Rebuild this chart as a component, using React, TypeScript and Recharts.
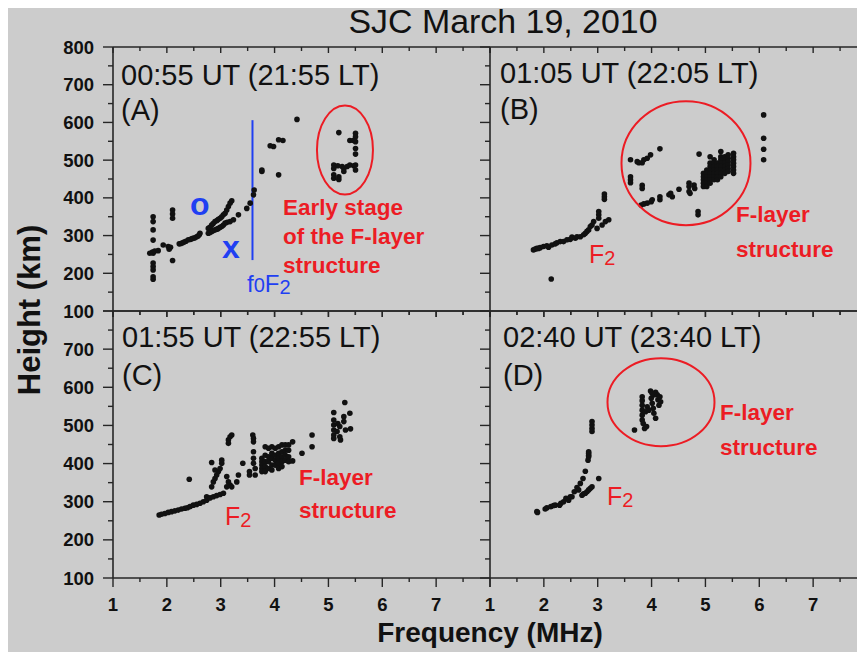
import React from 'react';
import { ScatterChart, Scatter, XAxis, YAxis, ReferenceDot, ReferenceLine } from 'recharts';

type P = [number, number];

// ---------- axes ----------
const xTicks = [1, 1.5, 2, 2.5, 3, 3.5, 4, 4.5, 5, 5.5, 6, 6.5, 7, 7.5, 8];
const yTicks = [100, 150, 200, 250, 300, 350, 400, 450, 500, 550, 600, 650, 700, 750, 800];
const xTickLabels = ['1', '2', '3', '4', '5', '6', '7'];
const yTickLabels = ['100', '200', '300', '400', '500', '600', '700', '800'];

// ---------- data (frequency MHz, height km) ----------
const col = (f: number, hs: number[]): P[] => hs.map((h) => [f, h] as P);

const panelA: P[] = [
  ...col(1.745, [350, 337, 315, 288, 253, 227, 218, 209, 191, 184]),
  [1.683, 253], [1.733, 256], [1.776, 259], [1.839, 260], [1.932, 275], [2.025, 271], [2.043, 264], [2.068, 269],
  ...col(2.106, [368, 357, 346, 234]),
  [2.23, 278], [2.26, 279], [2.292, 281], [2.32, 283], [2.354, 285], [2.398, 289], [2.441, 290], [2.47, 292],
  [2.491, 293], [2.52, 294], [2.553, 297], [2.58, 299], [2.602, 302], [2.615, 306],
  [2.77, 319], [2.8, 322], [2.832, 328], [2.86, 332], [2.894, 337], [2.93, 340], [2.957, 343], [2.99, 346],
  [3.019, 350], [3.05, 355], [3.081, 359], [3.112, 368], [3.143, 377], [3.174, 386], [3.205, 392],
  [2.77, 306], [2.8, 308], [2.832, 311], [2.86, 313], [2.894, 315], [2.93, 317], [2.957, 319], [2.99, 322],
  [3.019, 324], [3.05, 328], [3.081, 333], [3.12, 335], [3.174, 337], [3.236, 342],
  [3.329, 355], [3.484, 372], [3.547, 386], [3.609, 408], [3.621, 421],
  [3.764, 470], [3.764, 474], [4.075, 461], [3.919, 538], [3.981, 536], [4.075, 554], [4.155, 552], [4.416, 608],
  [5.193, 573], [5.099, 487], [5.099, 478], [5.174, 485], [5.255, 483], [5.286, 478], [5.348, 483], [5.398, 487],
  [5.472, 485], [5.503, 487], [5.503, 474], [5.099, 461], [5.099, 452], [5.193, 456], [5.193, 449], [5.286, 470],
  [5.398, 552], [5.46, 552], ...col(5.503, [571, 562, 549, 531, 516]),
];

const panelB: P[] = [
  [1.807, 262], [1.839, 264], [1.87, 266], [1.9, 266], [1.932, 268], [1.994, 271], [2.056, 273], [2.087, 269],
  [2.149, 275], [2.211, 278], [2.242, 281], [2.304, 284], [2.366, 284], [2.429, 289], [2.491, 290], [2.522, 296],
  [2.584, 293], [2.615, 297], [2.677, 297], [2.739, 302], [2.77, 306], [2.801, 311], [2.832, 315], [2.863, 324],
  [2.894, 328], [2.925, 337], ...col(3.019, [364, 355, 346]), ...col(3.124, [410, 403, 396]),
  [2.988, 319], [3.081, 328], [3.143, 337], [3.205, 342], [2.137, 185],
  ...col(3.609, [501, 456, 448, 440]), [3.733, 496], [3.764, 493], [3.826, 493], [3.857, 501], [3.919, 505],
  [3.981, 514], [4.155, 530], [3.826, 433], [3.826, 425],
  [3.807, 381], [3.857, 384], [3.919, 386], [3.994, 390], [4.012, 395], [4.155, 395], [4.155, 403], [4.323, 408],
  [4.354, 412], [4.385, 403], [4.509, 423], ...col(4.696, [439, 430, 417]), [4.714, 412], [4.789, 434], [4.801, 425],
  [4.882, 516], [4.863, 364], [4.863, 355],
  ...col(4.963, [465, 456, 448, 439, 430]),
  ...col(5.025, [474, 465, 456, 448, 439, 430]),
  ...col(5.087, [509, 492, 483, 474, 465, 456, 448, 439]),
  ...col(5.161, [501, 492, 483, 474, 465, 456, 448]),
  ...col(5.224, [492, 483, 474, 465, 456, 448]),
  ...col(5.286, [523, 509, 501, 492, 483, 474, 465, 456]),
  ...col(5.36, [509, 501, 492, 483, 474, 465]),
  ...col(5.422, [514, 505, 496, 487, 478, 470]),
  ...col(5.522, [518, 509, 501, 492, 483, 474, 465]),
  ...col(6.081, [620, 558, 529, 501]),
];

const panelC: P[] = [
  [1.857, 265], [1.901, 267], [1.963, 269], [2.025, 272], [2.087, 274], [2.149, 276], [2.211, 278], [2.273, 281],
  [2.335, 283], [2.379, 284], [2.429, 287], [2.491, 291], [2.553, 293], [2.615, 296], [2.677, 300], [2.739, 304],
  [2.739, 313], [2.801, 310], [2.863, 313], [2.925, 316], [2.988, 319], [3.05, 322], [2.416, 359],
  [2.832, 339], [2.863, 352], [2.894, 361], [2.925, 370], [2.957, 379], [2.988, 387], [3.019, 401], [2.832, 403],
  [2.894, 383], [3.019, 409], [3.112, 366], [3.143, 352], [3.174, 344], [3.205, 339], [3.112, 339],
  [3.143, 462], [3.143, 453], [3.174, 470], [3.205, 475], [3.298, 352], [3.329, 370], [3.41, 401],
  [3.534, 370], [3.534, 379], [3.596, 475], ...col(3.609, [466, 457, 431, 414, 401]), [3.64, 387], [3.64, 370],
  ...col(3.764, [414, 405, 396, 387, 379]),
  ...col(3.826, [444, 422, 405, 392, 379]),
  ...col(3.888, [440, 418, 405, 387]),
  ...col(3.95, [444, 427, 414, 396, 383]),
  ...col(4.012, [440, 422, 409, 396]),
  ...col(4.075, [444, 427, 414, 401, 387]),
  ...col(4.137, [449, 431, 418, 405, 392]),
  ...col(4.199, [449, 435, 422, 409]),
  ...col(4.261, [449, 435, 418, 405]),
  [4.335, 457], [4.335, 407], [4.509, 427], [4.696, 475], [4.696, 444],
  ...col(5.099, [534, 514, 501, 488, 475, 466]), [5.161, 484], [5.174, 505], [5.211, 497], [5.211, 470],
  [5.224, 462], [5.286, 523], [5.286, 510], [5.317, 488], [5.398, 532], [5.41, 491], [5.304, 560],
];

const panelD: P[] = [
  [1.87, 274], [1.882, 272], [2.025, 281], [2.056, 284], [2.13, 287], [2.18, 290], [2.211, 291], [2.292, 291],
  [2.317, 296], [2.366, 300], [2.41, 309], [2.46, 304],
  [2.491, 313], [2.522, 313], [2.565, 326], [2.615, 337], [2.646, 331], [2.677, 348], [2.727, 361], [2.77, 380],
  [2.82, 409], ...col(2.832, [418, 422, 427, 431]), ...col(2.894, [484, 492, 501, 510]),
  [2.708, 317], [2.739, 321], [2.77, 322], [2.801, 326], [2.832, 331], [2.863, 335], [2.894, 339], [3.019, 361],
  [3.683, 488], ...col(3.826, [575, 565, 553, 540, 527, 514]), [3.845, 505], [3.87, 492], [3.907, 497],
  [3.888, 536], [3.919, 549], [3.95, 540], [3.981, 590], [3.994, 571], [4.012, 558], [4.031, 545], [4.043, 532],
  [4.075, 519], [4.075, 587], [4.106, 580], [4.118, 567], [4.137, 553], [4.155, 575], [4.168, 562], [4.043, 580],
  [4.012, 584],
];

// ---------- style ----------
const FONT = '"Liberation Sans", Arial, Helvetica, sans-serif';
const AXIS = '#262626';
const RED = '#ec1c24';
const BLUE = '#1f3ff2';
const BG = '#cccccc';
const INK = '#111111';

const toPts = (arr: P[]) => arr.map(([f, h]) => ({ f, h }));
const isInt = (v: number) => Math.abs(v - Math.round(v)) < 1e-6;

const makeXTick = (major: number, minor: number, labels: boolean) => (props: any) => {
  const { x, y, payload } = props;
  const v = Number(payload.value);
  const mj = isInt(v);
  const idx = Math.round(v) - 1;
  return (
    <g>
      <line x1={x} x2={x} y1={y} y2={y + (mj ? major : minor)} stroke={AXIS} strokeWidth={1.4} />
      {labels && mj && idx < xTickLabels.length ? (
        <text x={x} y={y + 33} textAnchor="middle" fontFamily={FONT} fontWeight="bold" fontSize={18.5} fill={INK}>
          {xTickLabels[idx]}
        </text>
      ) : null}
    </g>
  );
};

const makeYTick = (labels: boolean, skipTop: boolean) => (props: any) => {
  const { x, y, payload } = props;
  const v = Number(payload.value);
  const mj = v % 100 === 0;
  const idx = Math.round(v / 100) - 1;
  const show = labels && mj && !(skipTop && idx === yTickLabels.length - 1);
  return (
    <g>
      <line x1={x - (mj ? 10 : 5)} x2={x} y1={y} y2={y} stroke={AXIS} strokeWidth={1.4} />
      {show ? (
        <text x={x - 19} y={y + 6.6} textAnchor="end" fontFamily={FONT} fontWeight="bold" fontSize={18.5} fill={INK}>
          {yTickLabels[idx]}
        </text>
      ) : null}
    </g>
  );
};

const Dot = (p: any) => <circle cx={p.cx} cy={p.cy} r={2.8} fill={INK} />;

const ellipseShape = (rx: number, ry: number) => (p: any) => (
  <ellipse cx={p.cx} cy={p.cy} rx={rx} ry={ry} fill="none" stroke={RED} strokeWidth={2} />
);

type PanelProps = {
  data: P[];
  width: number;
  margin: { top: number; left: number; right: number; bottom: number };
  xLabels: boolean;
  yLabels: boolean;
  skipTop: boolean;
  bottomMajor: number;
  extra?: React.ReactNode[];
};

// plot rectangle is given by margin; axes take 1px each
function Panel({ data, width, margin, xLabels, yLabels, skipTop, bottomMajor, extra }: PanelProps) {
  const m = { top: margin.top - 1, left: margin.left - 1, right: margin.right, bottom: margin.bottom - 1 };
  return (
    <div style={{ position: 'absolute', left: 0, top: 0 }}>
      <ScatterChart width={width} height={644} margin={m}>
        <XAxis
          xAxisId="b"
          dataKey="f"
          type="number"
          domain={[1, 8]}
          ticks={xTicks}
          interval={0}
          height={1}
          tickSize={0}
          tickMargin={0}
          tickLine={false}
          axisLine={{ stroke: AXIS, strokeWidth: 1.6 }}
          tick={makeXTick(bottomMajor, 4, xLabels)}
          allowDataOverflow
        />
        <XAxis
          xAxisId="t"
          orientation="top"
          dataKey="f"
          type="number"
          domain={[1, 8]}
          ticks={xTicks}
          interval={0}
          height={1}
          tickSize={0}
          tickMargin={0}
          tickLine={false}
          axisLine={{ stroke: AXIS, strokeWidth: 1.6 }}
          tick={makeXTick(6, 4, false)}
          allowDataOverflow
        />
        <YAxis
          yAxisId="l"
          dataKey="h"
          type="number"
          domain={[100, 800]}
          ticks={yTicks}
          interval={0}
          width={1}
          tickSize={0}
          tickMargin={0}
          tickLine={false}
          axisLine={{ stroke: AXIS, strokeWidth: 1.6 }}
          tick={makeYTick(yLabels, skipTop)}
          allowDataOverflow
        />
        <Scatter xAxisId="b" yAxisId="l" data={toPts(data)} shape={Dot} isAnimationActive={false} />
        {extra}
      </ScatterChart>
    </div>
  );
}

const redBold = { fontFamily: FONT, fontWeight: 'bold' as const, fontSize: 22.5, fill: RED };
const timeStyle = { fontFamily: FONT, fontSize: 29, fill: INK };

const F2 = ({ x, y }: { x: number; y: number }) => (
  <text x={x} y={y} fontFamily={FONT} fill={RED} fontSize={25}>
    F<tspan fontSize={20} dy={2}>2</tspan>
  </text>
);

export default function App() {
  return (
    <div style={{ position: 'absolute', left: 8, top: 8, width: 849, height: 644 }}>
      <div
        style={{
          position: 'absolute',
          left: 0,
          top: 0,
          width: 849,
          height: 644,
          background: BG,
          overflow: 'hidden',
        }}
      >
        <Panel
          data={panelA}
          width={849}
          margin={{ top: 39, left: 105, right: 367, bottom: 341 }}
          xLabels={false}
          yLabels={true}
          skipTop={false}
          bottomMajor={6}
          extra={[
            <ReferenceLine
              key="fof2"
              xAxisId="b"
              yAxisId="l"
              segment={[{ x: 3.59, y: 235 }, { x: 3.59, y: 606 }]}
              stroke={BLUE}
              strokeWidth={2}
              ifOverflow="visible"
            />,
            <ReferenceDot key="ea" xAxisId="b" yAxisId="l" x={5.307} y={527} r={1} shape={ellipseShape(28, 44.5)} ifOverflow="visible" />,
          ]}
        />
        <Panel
          data={panelB}
          width={870}
          margin={{ top: 39, left: 482, right: 11, bottom: 341 }}
          xLabels={false}
          yLabels={false}
          skipTop={false}
          bottomMajor={6}
          extra={[
            <ReferenceDot key="eb" xAxisId="b" yAxisId="l" x={4.639} y={492} r={1} shape={ellipseShape(64.5, 62)} ifOverflow="visible" />,
          ]}
        />
        <Panel
          data={panelC}
          width={849}
          margin={{ top: 303, left: 105, right: 367, bottom: 74 }}
          xLabels={true}
          yLabels={true}
          skipTop={true}
          bottomMajor={9}
        />
        <Panel
          data={panelD}
          width={870}
          margin={{ top: 303, left: 482, right: 11, bottom: 74 }}
          xLabels={true}
          yLabels={false}
          skipTop={true}
          bottomMajor={9}
          extra={[
            <ReferenceDot key="ed" xAxisId="b" yAxisId="l" x={4.175} y={561} r={1} shape={ellipseShape(53.5, 44)} ifOverflow="visible" />,
          ]}
        />
      </div>
      <svg
        width={849}
        height={644}
        style={{ position: 'absolute', left: 0, top: 0, pointerEvents: 'none', overflow: 'visible' }}
      >
        <text x={495} y={25} textAnchor="middle" fontFamily={FONT} fontSize={33} fill={INK} textLength={309} lengthAdjust="spacingAndGlyphs">
          SJC March 19, 2010
        </text>
        <text transform="translate(32,302) rotate(-90)" textAnchor="middle" fontFamily={FONT} fontWeight="bold" fontSize={31} fill={INK}>
          Height (km)
        </text>
        <text x={482} y={634} textAnchor="middle" fontFamily={FONT} fontWeight="bold" fontSize={28} fill={INK}>
          Frequency (MHz)
        </text>

        <text x={113} y={77} {...timeStyle}>00:55 UT (21:55 LT)</text>
        <text x={113} y={112} {...timeStyle}>(A)</text>
        <text x={492} y={75} {...timeStyle}>01:05 UT (22:05 LT)</text>
        <text x={492} y={111} {...timeStyle}>(B)</text>
        <text x={114} y={339} {...timeStyle}>01:55 UT (22:55 LT)</text>
        <text x={114} y={377} {...timeStyle}>(C)</text>
        <text x={495} y={339} {...timeStyle}>02:40 UT (23:40 LT)</text>
        <text x={495} y={377} {...timeStyle}>(D)</text>

        <text x={275} y={207} {...redBold}>Early stage</text>
        <text x={275} y={236} {...redBold}>of the F-layer</text>
        <text x={275} y={265} {...redBold}>structure</text>

        <text x={728} y={214} {...redBold}>F-layer</text>
        <text x={728} y={249} {...redBold}>structure</text>
        <text x={291} y={477} {...redBold}>F-layer</text>
        <text x={291} y={510} {...redBold}>structure</text>
        <text x={712} y={412} {...redBold}>F-layer</text>
        <text x={712} y={447} {...redBold}>structure</text>

        <F2 x={581} y={255} />
        <F2 x={217} y={517} />
        <F2 x={599} y={497} />

        <text x={182} y={207} fontFamily={FONT} fontWeight="bold" fontSize={32} fill={BLUE}>o</text>
        <text x={214} y={250} fontFamily={FONT} fontWeight="bold" fontSize={32} fill={BLUE}>x</text>
        <text x={239} y={284} fontFamily={FONT} fontSize={24} fill={BLUE}>
          f<tspan fontSize={20}>0</tspan>F<tspan fontSize={20} dy={2}>2</tspan>
        </text>
      </svg>
    </div>
  );
}
